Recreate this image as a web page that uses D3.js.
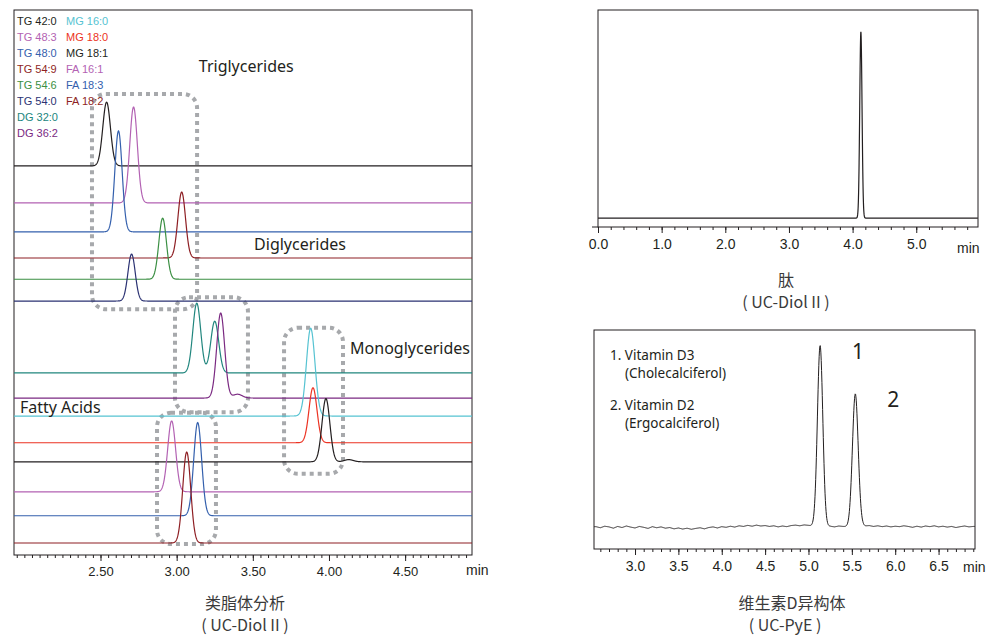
<!DOCTYPE html>
<html>
<head>
<meta charset="utf-8">
<script src="https://cdn.jsdelivr.net/npm/d3@7"></script>
<style>
body { margin: 0; background: #fff; }
svg text { font-family: "Liberation Sans", Arial, sans-serif; fill: #231f20; }
.note { font-family: "Noto Sans", sans-serif; }
.cap { font-family: "Noto Sans CJK SC", sans-serif; fill: #3a3a3a; }
</style>
</head>
<body>
<svg id="chart" width="989" height="636"></svg>
<script>
// ---- data ----
// lipid panel: one trace per compound, stacked by offset
var lipidNames = ["TG 42:0", "TG 48:3", "TG 48:0", "TG 54:9", "TG 54:6", "TG 54:0", "DG 32:0",
  "DG 36:2", "MG 16:0", "MG 18:0", "MG 18:1", "FA 16:1", "FA 18:3", "FA 18:2"];
var lipidColors = ["#231f20", "#b362b3", "#3460ad", "#8e1f24", "#3b8f43", "#2b3273", "#21867e",
  "#7b2a82", "#56c3d2", "#ec3323", "#231f20", "#b362b3", "#3460ad", "#8e1f24"];
var lipidOffsets = [71.4, 64.6, 59.3, 54.5, 50.6, 46.6, 33.4, 28.8, 25.5, 20.6, 17.1, 11.6, 7.2, 2.2];
// peaks: [retention time (min), height, width (min)]
var lipidPeaks = [
  [[2.540, 11.7, 0.025]],
  [[2.717, 17.6, 0.025]],
  [[2.618, 18.5, 0.024]],
  [[3.033, 12.1, 0.025]],
  [[2.908, 11.2, 0.025]],
  [[2.704, 8.6, 0.024]],
  [[3.132, 12.8, 0.026], [3.250, 9.5, 0.026]],
  [[3.289, 15.6, 0.026], [3.400, 0.7, 0.03]],
  [[3.880, 16.1, 0.028]],
  [[3.895, 10.1, 0.026]],
  [[3.980, 11.6, 0.026], [4.130, 0.4, 0.03]],
  [[2.967, 13.0, 0.026]],
  [[3.138, 17.1, 0.026]],
  [[3.066, 16.7, 0.026]]
];
var lipidTicks = [2.5, 3.0, 3.5, 4.0, 4.5];

// peptide panel
var peptideOffset = 4.1;
var peptidePeaks = [[4.13, 85.8, 0.018]];
var peptideTicks = [0, 1, 2, 3, 4, 5];

// vitamin D panel
var vitaminOffset = 10;
var vitaminPeaks = [[5.134, 82.4, 0.031], [5.540, 60.3, 0.033]];
// baseline noise, every 0.05 min from 2.55 min
var vitaminNoise = [
  0.2, -0.3, 0.4, 0.1, -0.5, 0.3, -0.2, 0.5, 0.0, -0.4,
  0.3, -0.1, -0.6, 0.2, -0.3, 0.1, -0.5, -0.2, -0.8, -0.4,
  -0.9, -0.5, -1.0, -0.6, -0.3, -0.8, -0.2, 0.1, -0.4, 0.2,
  -0.1, 0.4, 0.0, 0.6, 0.3, 0.8, 0.4, 0.9, 0.5, 0.7,
  0.3, 0.6, 0.1, 0.5, 0.2, 0.7, 0.9, 0.6, 1.0, 0.8,
  0.5, 0.3, 0.6, 0.2, 0.4, 0.1, 0.5, 0.3, 0.2, 0.4,
  0.6, 0.9, 0.5, 0.7, 0.3, 0.6, 0.2, 0.5, 0.1, 0.4,
  0.2, 0.6, 0.3, -0.1, 0.4, 0.0, 0.5, 0.2, 0.6, 0.1,
  0.4, 0.0, 0.3, -0.2, 0.2, 0.5, 0.1, 0.3
];
var vitaminTicks = [3.0, 3.5, 4.0, 4.5, 5.0, 5.5, 6.0, 6.5];

var svg = d3.select("#chart");

function signal(offset, peaks, t) {
  return offset + d3.sum(peaks, p => p[1] * Math.exp(-0.5 * Math.pow((t - p[0]) / p[2], 2)));
}

// draws frame + bottom axis, returns group
function panel(id, x, y, majors, minorStep, fmt, minX, minY) {
  var g = svg.append("g");
  var x0 = x.range()[0], x1 = x.range()[1];
  var y0 = y.range()[1], y1 = y.range()[0];

  g.append("clipPath").attr("id", id)
    .append("rect").attr("x", x0).attr("y", y0).attr("width", x1 - x0).attr("height", y1 - y0);

  var minors = d3.range(Math.ceil(x.domain()[0] / minorStep) * minorStep, x.domain()[1], minorStep);
  g.append("g")
    .attr("transform", `translate(0, ${y1})`)
    .call(d3.axisBottom(x).tickValues(minors).tickSize(3).tickFormat(""))
    .call(a => a.select(".domain").remove())
    .selectAll("line").attr("stroke", "#231f20");

  var major = g.append("g")
    .attr("transform", `translate(0, ${y1})`)
    .call(d3.axisBottom(x).tickValues(majors).tickSize(6).tickPadding(6).tickFormat(d3.format(fmt)))
    .call(a => a.select(".domain").remove());
  major.selectAll("line").attr("stroke", "#231f20");
  major.selectAll("text").attr("font-size", 14).attr("fill", "#231f20");

  g.append("text").attr("x", minX).attr("y", minY).attr("font-size", 14).text("min");

  g.append("rect")
    .attr("x", x0).attr("y", y0).attr("width", x1 - x0).attr("height", y1 - y0)
    .attr("fill", "none").attr("stroke", "#231f20").attr("stroke-width", 1);
  return g;
}

// ---- lipid chart ----
var xLip = d3.scaleLinear().domain([1.932, 4.939]).range([14, 472]);
var yLip = d3.scaleLinear().domain([0, 100]).range([555, 10]);
var gLip = panel("clipLip", xLip, yLip, lipidTicks, 0.05, ".2f", 466, 575);
gLip.selectAll("text").filter(function() { return this.textContent !== "min"; }).attr("font-size", 13);

var lipLine = d3.line().x(d => xLip(d[0])).y(d => yLip(d[1]));
var tLip = d3.range(1.932, 4.94, 0.002);

// dotted group boxes [t start, t end, low, high]
var groupBoxes = [[2.444, 3.134, 45.1, 84.6], [2.989, 3.468, 26.2, 47.3],
  [3.705, 4.092, 14.9, 41.7], [2.871, 3.258, 2.0, 26.1]];
gLip.append("g").selectAll("rect")
  .data(groupBoxes)
  .enter()
  .append("rect")
  .attr("x", d => xLip(d[0]))
  .attr("y", d => yLip(d[3]))
  .attr("width", d => xLip(d[1]) - xLip(d[0]))
  .attr("height", d => yLip(d[2]) - yLip(d[3]))
  .attr("rx", 14)
  .attr("fill", "none")
  .attr("stroke", "#a7a9ac")
  .attr("stroke-width", 4)
  .attr("stroke-dasharray", "4,4");

gLip.append("g").attr("clip-path", "url(#clipLip)")
  .selectAll("path")
  .data(lipidNames)
  .enter()
  .append("path")
  .attr("d", (d, i) => lipLine(tLip.map(t => [t, signal(lipidOffsets[i], lipidPeaks[i], t)])))
  .attr("fill", "none")
  .attr("stroke", (d, i) => lipidColors[i])
  .attr("stroke-width", 1.2);

// legend
gLip.append("g").selectAll("text")
  .data(lipidNames)
  .enter()
  .append("text")
  .attr("x", (d, i) => i < 8 ? 17 : 66)
  .attr("y", (d, i) => 21 + 16 * (i < 8 ? i : i - 8))
  .attr("dy", "0.35em")
  .attr("font-size", 11)
  .style("fill", (d, i) => lipidColors[i])
  .text(d => d);

var groupLabels = [["Triglycerides", 3.457, 89.7, "middle"], ["Diglycerides", 3.81, 56.9, "middle"],
  ["Monoglycerides", 4.532, 38.0, "middle"], ["Fatty Acids", 1.971, 27.0, "start"]];
gLip.append("g").selectAll("text")
  .data(groupLabels)
  .enter()
  .append("text")
  .attr("class", "note")
  .attr("x", d => xLip(d[1]))
  .attr("y", d => yLip(d[2]))
  .attr("dy", "0.35em")
  .attr("text-anchor", d => d[3])
  .attr("font-size", 16)
  .text(d => d[0]);

// ---- peptide chart ----
var xPep = d3.scaleLinear().domain([0, 5.97]).range([598, 978]);
var yPep = d3.scaleLinear().domain([0, 100]).range([227, 10]);
var gPep = panel("clipPep", xPep, yPep, peptideTicks, 0.2, ".1f", 957, 253);
gPep.append("line").attr("x1", 592).attr("x2", 598).attr("y1", 227).attr("y2", 227).attr("stroke", "#231f20");
var pepLine = d3.line().x(d => xPep(d[0])).y(d => yPep(d[1]));
gPep.append("path")
  .attr("clip-path", "url(#clipPep)")
  .attr("d", pepLine(d3.range(0, 5.97, 0.002).map(t => [t, signal(peptideOffset, peptidePeaks, t)])))
  .attr("fill", "none")
  .attr("stroke", "#231f20")
  .attr("stroke-width", 1.2);

// ---- vitamin D chart ----
var xVit = d3.scaleLinear().domain([2.527, 6.92]).range([594, 975]);
var yVit = d3.scaleLinear().domain([0, 100]).range([549, 330]);
var gVit = panel("clipVit", xVit, yVit, vitaminTicks, 0.1, ".1f", 963, 572);
var noiseScale = d3.scaleLinear()
  .domain(vitaminNoise.map((v, i) => 2.55 + i * 0.05))
  .range(vitaminNoise)
  .clamp(true);
var vitLine = d3.line().x(d => xVit(d[0])).y(d => yVit(d[1]));
gVit.append("path")
  .attr("clip-path", "url(#clipVit)")
  .attr("d", vitLine(d3.range(2.527, 6.92, 0.004).map(t => [t, signal(vitaminOffset, vitaminPeaks, t) + noiseScale(t)])))
  .attr("fill", "none")
  .attr("stroke", "#231f20")
  .attr("stroke-width", 1);

var vitLegend = [["1. Vitamin D3", 610, 355], ["(Cholecalciferol)", 625, 373],
  ["2.  Vitamin D2", 610, 405], ["(Ergocalciferol)", 625, 423]];
gVit.append("g").selectAll("text")
  .data(vitLegend)
  .enter()
  .append("text")
  .attr("class", "note")
  .attr("x", d => d[1]).attr("y", d => d[2])
  .attr("dy", "0.35em")
  .attr("font-size", 13.5)
  .text(d => d[0]);

gVit.selectAll(".peakNum")
  .data(vitaminPeaks)
  .enter()
  .append("text")
  .attr("class", "note peakNum")
  .attr("x", d => xVit(d[0]) + 38)
  .attr("y", d => yVit(vitaminOffset + d[1]) + 5)
  .attr("dy", "0.35em")
  .attr("text-anchor", "middle")
  .attr("font-size", 21)
  .text((d, i) => i + 1);

// ---- captions ----
var captions = [["类脂体分析", 245, 603], ["( UC-Diol II )", 245, 625],
  ["肽", 786, 280], ["( UC-Diol II )", 786, 302],
  ["维生素D异构体", 792, 603], ["( UC-PyE )", 785, 625]];
svg.append("g").selectAll("text")
  .data(captions)
  .enter()
  .append("text")
  .attr("class", "cap")
  .attr("x", d => d[1]).attr("y", d => d[2])
  .attr("dy", "0.35em")
  .attr("text-anchor", "middle")
  .attr("font-size", 16)
  .text(d => d[0]);
</script>
</body>
</html>
